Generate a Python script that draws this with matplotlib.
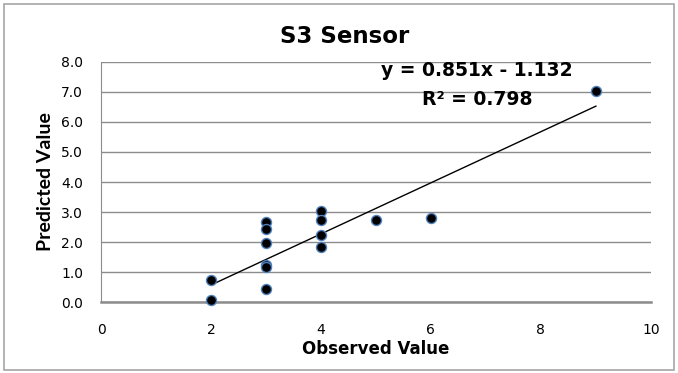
import matplotlib
matplotlib.use("Agg")
import matplotlib.pyplot as plt
from matplotlib.patches import Rectangle

# Observed vs predicted readings for the S3 sensor
observed = [2, 2, 3, 3, 3, 3, 3, 3, 4, 4, 4, 4, 5, 6, 9]
predicted = [0.75, 0.08, 2.68, 2.42, 1.97, 1.25, 1.16, 0.45,
             3.05, 2.75, 2.22, 1.82, 2.73, 2.80, 7.03]

# Linear trendline coefficients
slope = 0.851
intercept = -1.132
r_squared = 0.798

x_ticks = [0, 2, 4, 6, 8, 10]
y_ticks = [0, 1, 2, 3, 4, 5, 6, 7, 8]

fig = plt.figure(figsize=(6.78, 3.73), dpi=100)
fig.patch.set_facecolor("white")
fig.patches.append(Rectangle((0.006, 0.008), 0.988, 0.982, transform=fig.transFigure,
                             fill=False, edgecolor="#a6a6a6", linewidth=1.2))

ax = fig.add_axes([0.149, 0.190, 0.811, 0.644])
ax.set_xlim(0, 10)
ax.set_ylim(0, 8)
ax.set_xticks(x_ticks)
ax.set_yticks(y_ticks)
ax.set_xticklabels([str(t) for t in x_ticks])
ax.set_yticklabels([f"{t:.1f}" for t in y_ticks])
ax.tick_params(axis="both", length=0, labelsize=10, colors="black")
ax.tick_params(axis="x", pad=15)
ax.tick_params(axis="y", pad=13)

ax.grid(axis="y", color="#8c8c8c", linewidth=1.0)
ax.set_axisbelow(True)
for side in ("top", "right"):
    ax.spines[side].set_visible(False)
ax.spines["left"].set_color("#8c8c8c")
ax.spines["bottom"].set_color("#8c8c8c")
ax.spines["bottom"].set_linewidth(1.8)

ax.scatter(observed, predicted, s=52, color="black", edgecolors="#4f81bd",
           linewidths=1.0, zorder=3, clip_on=False)

xs = [min(observed), max(observed)]
ax.plot(xs, [slope * v + intercept for v in xs], color="black", linewidth=1.0, zorder=2)

bold = dict(family=["DejaVu Sans"], fontweight="bold")
ax.text(0.684, 0.963, f"y = {slope:.3f}x - {abs(intercept):.3f}", transform=ax.transAxes,
        ha="center", va="center", fontsize=13.5, **bold)
ax.text(0.684, 0.842, f"R² = {r_squared:.3f}", transform=ax.transAxes,
        ha="center", va="center", fontsize=13.5, **bold)

fig.text(0.508, 0.902, "S3 Sensor", ha="center", va="center", fontsize=16.5, **bold)
ax.set_xlabel("Observed Value", fontsize=12, labelpad=2, **bold)
ax.set_ylabel("Predicted Value", fontsize=14, labelpad=5,
              family=["Lato", "DejaVu Sans"], fontweight="bold")

fig.savefig("out.png", dpi=100)
